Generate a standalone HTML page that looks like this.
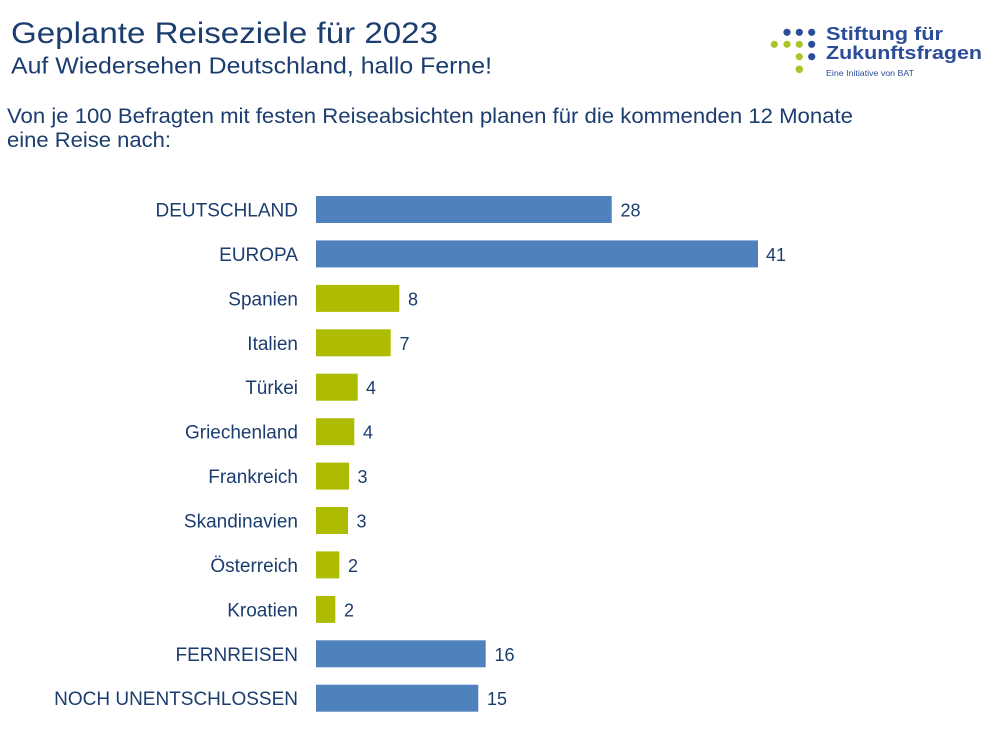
<!DOCTYPE html>
<html><head><meta charset="utf-8"><style>
html,body{margin:0;padding:0;background:#fff;}
svg{display:block;}
text{font-family:"Liberation Sans",Arial,sans-serif;}
</style></head><body>
<svg width="1000" height="750" viewBox="0 0 1000 750" xmlns="http://www.w3.org/2000/svg">
<rect width="1000" height="750" fill="#fff"/>
<g fill="#1b3d6f">
<text x="11" y="43" font-size="30" textLength="427" lengthAdjust="spacingAndGlyphs">Geplante Reiseziele für 2023</text>
<text x="11" y="73.5" font-size="23" textLength="481" lengthAdjust="spacingAndGlyphs">Auf Wiedersehen Deutschland, hallo Ferne!</text>
<text x="7" y="123" font-size="21.5" textLength="846" lengthAdjust="spacingAndGlyphs">Von je 100 Befragten mit festen Reiseabsichten planen für die kommenden 12 Monate</text>
<text x="7" y="147" font-size="21.5" textLength="164" lengthAdjust="spacingAndGlyphs">eine Reise nach:</text>
</g>
<!-- logo -->
<g>
<circle cx="787" cy="32.3" r="3.6" fill="#2b4d98"/>
<circle cx="799.3" cy="32.3" r="3.6" fill="#2b4d98"/>
<circle cx="811.7" cy="32.3" r="3.6" fill="#2b4d98"/>
<circle cx="774.3" cy="44.3" r="3.6" fill="#a9c62b"/>
<circle cx="787" cy="44.3" r="3.6" fill="#a9c62b"/>
<circle cx="799.3" cy="44.3" r="3.6" fill="#a9c62b"/>
<circle cx="811.7" cy="44.3" r="3.6" fill="#2b4d98"/>
<circle cx="799.3" cy="56.7" r="3.6" fill="#a9c62b"/>
<circle cx="811.7" cy="56.7" r="3.6" fill="#2b4d98"/>
<circle cx="799.3" cy="69.3" r="3.8" fill="#a9c62b"/>
<text x="826" y="40" font-size="18" font-weight="bold" fill="#2b4d98" textLength="117" lengthAdjust="spacingAndGlyphs">Stiftung für</text>
<text x="826" y="59" font-size="18" font-weight="bold" fill="#2b4d98" textLength="156" lengthAdjust="spacingAndGlyphs">Zukunftsfragen</text>
<text x="826" y="76" font-size="8" fill="#2b4d98" textLength="88" lengthAdjust="spacingAndGlyphs">Eine Initiative von BAT</text>
</g>
<!-- bars -->
<g>
<rect x="316" y="196" width="295.7" height="27" fill="#4f81bd"/>
<rect x="316" y="240.4" width="442" height="27" fill="#4f81bd"/>
<rect x="316" y="284.9" width="83.3" height="27" fill="#adbc00"/>
<rect x="316" y="329.3" width="74.7" height="27" fill="#adbc00"/>
<rect x="316" y="373.7" width="41.7" height="27" fill="#adbc00"/>
<rect x="316" y="418.2" width="38.3" height="27" fill="#adbc00"/>
<rect x="316" y="462.6" width="33" height="27" fill="#adbc00"/>
<rect x="316" y="507" width="32" height="27" fill="#adbc00"/>
<rect x="316" y="551.4" width="23.3" height="27" fill="#adbc00"/>
<rect x="316" y="595.9" width="19.3" height="27" fill="#adbc00"/>
<rect x="316" y="640.3" width="169.7" height="27" fill="#4f81bd"/>
<rect x="316" y="684.7" width="162.3" height="27" fill="#4f81bd"/>
</g>
<g fill="#1b3d6f" font-size="19" text-anchor="end">
<text x="298" y="216.5">DEUTSCHLAND</text>
<text x="298" y="260.9">EUROPA</text>
<text x="298" y="305.4">Spanien</text>
<text x="298" y="349.8">Italien</text>
<text x="298" y="394.2">Türkei</text>
<text x="298" y="438.7">Griechenland</text>
<text x="298" y="483.1">Frankreich</text>
<text x="298" y="527.5">Skandinavien</text>
<text x="298" y="571.9">Österreich</text>
<text x="298" y="616.4">Kroatien</text>
<text x="298" y="660.8">FERNREISEN</text>
<text x="298" y="705.2">NOCH UNENTSCHLOSSEN</text>
</g>
<g fill="#1b3d6f" font-size="18">
<text x="620.5" y="216.5">28</text>
<text x="766" y="260.9">41</text>
<text x="408" y="305.4">8</text>
<text x="399.5" y="349.8">7</text>
<text x="366" y="394.2">4</text>
<text x="363" y="438.7">4</text>
<text x="357.5" y="483.1">3</text>
<text x="356.5" y="527.5">3</text>
<text x="348" y="571.9">2</text>
<text x="344" y="616.4">2</text>
<text x="494.5" y="660.8">16</text>
<text x="487" y="705.2">15</text>
</g>
</svg>
</body></html>
